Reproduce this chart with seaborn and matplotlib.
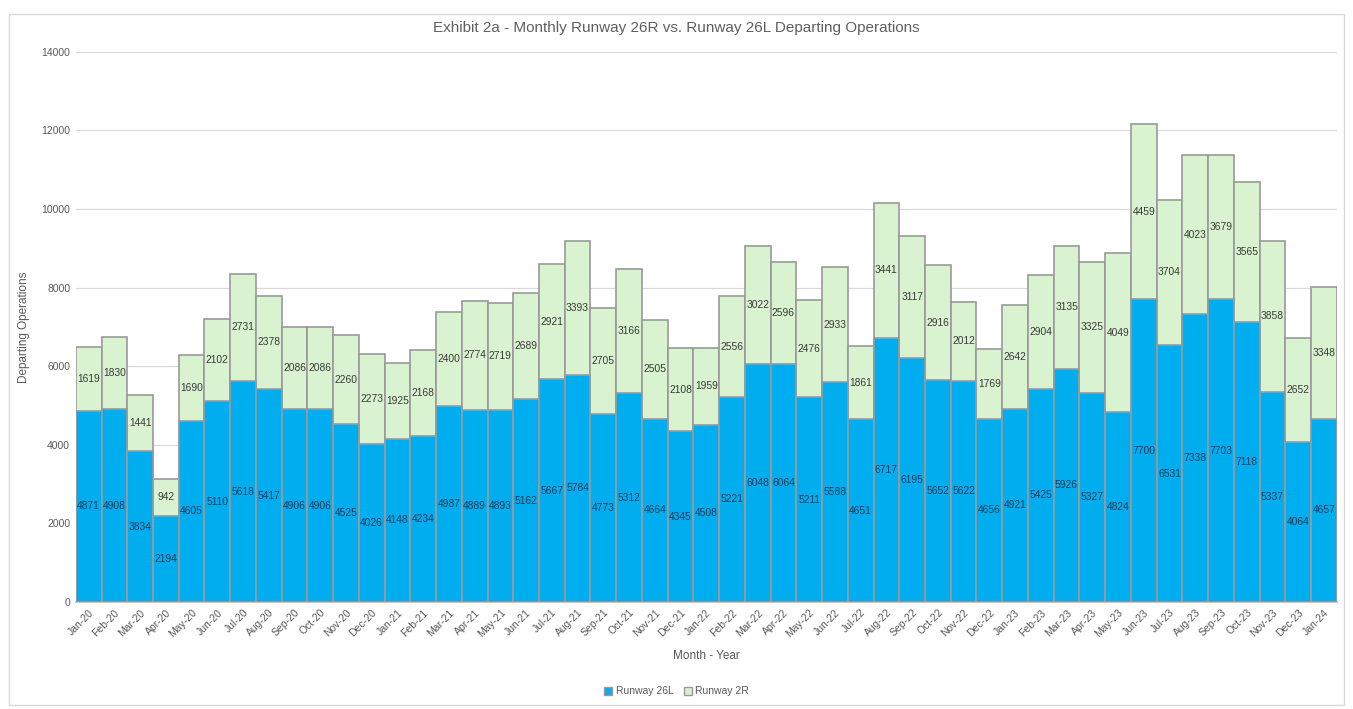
import matplotlib
matplotlib.use("Agg")
import matplotlib.pyplot as plt
from matplotlib import font_manager
from matplotlib.patches import Patch, Rectangle
import numpy as np
import pandas as pd
import seaborn as sns

# Monthly departures by runway, Jan-2020 .. Jan-2024
months = [
    "Jan-20", "Feb-20", "Mar-20", "Apr-20", "May-20", "Jun-20", "Jul-20", "Aug-20",
    "Sep-20", "Oct-20", "Nov-20", "Dec-20", "Jan-21", "Feb-21", "Mar-21", "Apr-21",
    "May-21", "Jun-21", "Jul-21", "Aug-21", "Sep-21", "Oct-21", "Nov-21", "Dec-21",
    "Jan-22", "Feb-22", "Mar-22", "Apr-22", "May-22", "Jun-22", "Jul-22", "Aug-22",
    "Sep-22", "Oct-22", "Nov-22", "Dec-22", "Jan-23", "Feb-23", "Mar-23", "Apr-23",
    "May-23", "Jun-23", "Jul-23", "Aug-23", "Sep-23", "Oct-23", "Nov-23", "Dec-23",
    "Jan-24",
]
runway_26l = [
    4871, 4908, 3834, 2194, 4605, 5110, 5618, 5417, 4906, 4906, 4525, 4026,
    4148, 4234, 4987, 4889, 4893, 5162, 5667, 5784, 4773, 5312, 4664, 4345,
    4508, 5221, 6048, 6064, 5211, 5588, 4651, 6717, 6195, 5652, 5622, 4656,
    4921, 5425, 5926, 5327, 4824, 7700, 6531, 7338, 7703, 7118, 5337, 4064,
    4657,
]
runway_2r = [
    1619, 1830, 1441, 942, 1690, 2102, 2731, 2378, 2086, 2086, 2260, 2273,
    1925, 2168, 2400, 2774, 2719, 2689, 2921, 3393, 2705, 3166, 2505, 2108,
    1959, 2556, 3022, 2596, 2476, 2933, 1861, 3441, 3117, 2916, 2012, 1769,
    2642, 2904, 3135, 3325, 4049, 4459, 3704, 4023, 3679, 3565, 3858, 2652,
    3348,
]
y_ticks = [0, 2000, 4000, 6000, 8000, 10000, 12000, 14000]

df = pd.DataFrame({"month": months, "r26l": runway_26l, "r2r": runway_2r})
df["total"] = df["r26l"] + df["r2r"]

sns.set_theme(style="white")
available = {f.name for f in font_manager.fontManager.ttflist}
ui_font = "Liberation Sans Narrow" if "Liberation Sans Narrow" in available else "Liberation Sans"
plt.rcParams["font.family"] = [ui_font, "DejaVu Sans"]

BLUE = "#00aeef"
GREEN = "#d9f2d0"
EDGE = "#9a9a9a"
GREY_TXT = "#595959"

fig = plt.figure(figsize=(13.53, 7.09), dpi=100)
ax = fig.add_axes([0.056, 0.151, 0.932, 0.776])

# stacked bars: full height in green, Runway 26L in blue over it
sns.barplot(data=df, x="month", y="total", color=GREEN, width=1.0,
            edgecolor=EDGE, linewidth=1.2, saturation=1, ax=ax, zorder=2)
sns.barplot(data=df, x="month", y="r26l", color=BLUE, width=1.0,
            edgecolor=EDGE, linewidth=1.2, saturation=1, ax=ax, zorder=3)

for i, (a, b) in enumerate(zip(df["r26l"], df["r2r"])):
    ax.text(i, a / 2, f"{a}", ha="center", va="center", fontsize=7.4,
            color="#1d3b5a", family="Liberation Sans", zorder=4)
    ax.text(i, a + b / 2, f"{b}", ha="center", va="center", fontsize=7.4,
            color="#3a3a3a", family="Liberation Sans", zorder=4)

ax.set_xlim(-0.5, len(months) - 0.5)
ax.set_ylim(0, 14000)
ax.set_yticks(y_ticks)
ax.set_yticklabels([str(t) for t in y_ticks], fontsize=7.5, color=GREY_TXT)
ax.set_xticks(range(len(months)))
ax.set_xticklabels(months, rotation=45, ha="right", rotation_mode="anchor",
                   fontsize=7.5, color=GREY_TXT)
ax.tick_params(axis="both", length=0, pad=4)
ax.yaxis.grid(True, color="#d9d9d9", linewidth=0.9, zorder=0)
ax.set_axisbelow(True)
for side in ["left", "right", "top"]:
    ax.spines[side].set_visible(False)
ax.spines["bottom"].set_color("#bfbfbf")

ax.set_ylabel("Departing Operations", fontsize=8.5, color=GREY_TXT, labelpad=8)
ax.set_xlabel("Month - Year", fontsize=8.5, color=GREY_TXT, labelpad=8)
fig.text(0.5, 0.96, "Exhibit 2a - Monthly Runway 26R vs. Runway 26L Departing Operations",
         ha="center", va="center", fontsize=11, color="#5f5f5f")

handles = [Patch(facecolor=BLUE, edgecolor=EDGE, label="Runway 26L"),
           Patch(facecolor=GREEN, edgecolor=EDGE, label="Runway 2R")]
fig.legend(handles=handles, loc="center", bbox_to_anchor=(0.5, 0.025), ncol=2,
           frameon=False, fontsize=7.5, handlelength=0.8, handleheight=0.8,
           handletextpad=0.3, columnspacing=1.0, labelcolor=GREY_TXT)

# chart frame
fig.patches.append(Rectangle((0.007, 0.005), 0.986, 0.975, transform=fig.transFigure,
                             fill=False, edgecolor="#d9d9d9", linewidth=1.0))

fig.savefig("out.png", dpi=100)
